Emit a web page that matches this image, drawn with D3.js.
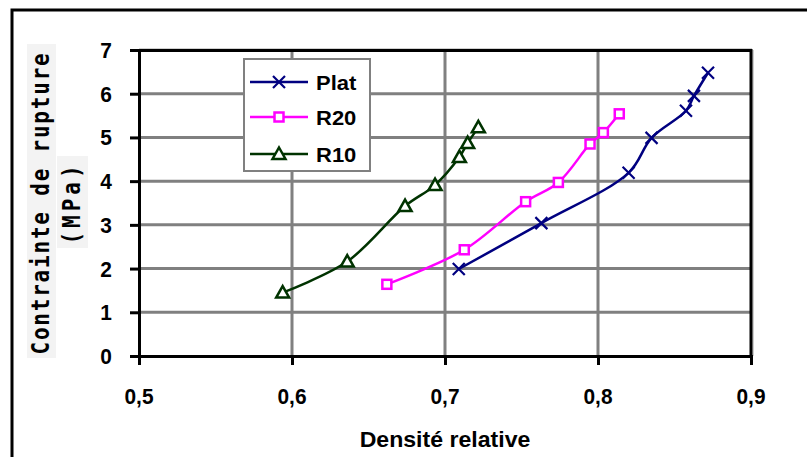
<!DOCTYPE html>
<html>
<head>
<meta charset="utf-8">
<script src="https://cdn.jsdelivr.net/npm/d3@7/dist/d3.min.js"></script>
<style>
  html, body { margin: 0; padding: 0; background: #fff; }
  svg { display: block; }
  text { font-family: "Liberation Sans", Arial, sans-serif; font-weight: bold; fill: #000; }
</style>
</head>
<body>
<svg id="chart" width="807" height="457"></svg>
<script>
// ---------- data ----------
const seriesNames = ["Plat", "R20", "R10"];
const platX = [0.709, 0.763, 0.820, 0.835, 0.8575, 0.8627, 0.8719];
const platY = [1.99, 3.04, 4.19, 4.99, 5.61, 5.95, 6.48];
const r20X  = [0.662, 0.7126, 0.7527, 0.7741, 0.7948, 0.8035, 0.8139];
const r20Y  = [1.64, 2.43, 3.53, 3.97, 4.85, 5.11, 5.54];
const r10X  = [0.5939, 0.6361, 0.6739, 0.6935, 0.7094, 0.7148, 0.7218];
const r10Y  = [1.45, 2.16, 3.43, 3.91, 4.55, 4.87, 5.23];
const xTicks = [0.5, 0.6, 0.7, 0.8, 0.9];
const xTickLabels = ["0,5", "0,6", "0,7", "0,8", "0,9"];
const yTicks = [0, 1, 2, 3, 4, 5, 6, 7];
const xTitle = "Densité relative";
const yTitle1 = "Contrainte de rupture";
const yTitle2 = "(MPa)";

// ---------- layout ----------
const svg = d3.select("#chart");
const L = 139, R = 751, T = 50, B = 356;
const x = d3.scaleLinear().domain([0.5, 0.9]).range([L, R]);
const y = d3.scaleLinear().domain([0, 7]).range([B, T]);

const colors = { "Plat": "#000080", "R20": "#ff00ff", "R10": "#003300" };
const series = [
  { name: "Plat", pts: platX.map((v, i) => [v, platY[i]]), marker: "x" },
  { name: "R20",  pts: r20X.map((v, i) => [v, r20Y[i]]),  marker: "square" },
  { name: "R10",  pts: r10X.map((v, i) => [v, r10Y[i]]),  marker: "triangle" }
];

// outer frame
svg.append("rect").attr("x", 12).attr("y", 10).attr("width", 900).attr("height", 600)
  .attr("fill", "none").attr("stroke", "#000").attr("stroke-width", 3);

// y title backgrounds
svg.append("rect").attr("x", 27).attr("y", 44).attr("width", 29).attr("height", 314).attr("fill", "#f3f3f3");
svg.append("rect").attr("x", 57).attr("y", 156).attr("width", 31).attr("height", 92).attr("fill", "#f3f3f3");

// grid
const g = svg.append("g");
g.selectAll(".hg").data(yTicks.filter(d => d > 0 && d < 7)).enter().append("line")
  .attr("x1", L).attr("x2", R).attr("y1", d => y(d)).attr("y2", d => y(d))
  .attr("stroke", "#808080").attr("stroke-width", 3);
g.selectAll(".vg").data(xTicks.filter(d => d > 0.5 && d < 0.9)).enter().append("line")
  .attr("y1", T).attr("y2", B).attr("x1", d => x(d)).attr("x2", d => x(d))
  .attr("stroke", "#808080").attr("stroke-width", 3);

// plot frame top/right with shadow
svg.append("line").attr("x1", L).attr("x2", R + 1).attr("y1", T - 1).attr("y2", T - 1).attr("stroke", "#a0a0a0").attr("stroke-width", 1);
svg.append("line").attr("x1", R + 2).attr("x2", R + 2).attr("y1", T).attr("y2", B).attr("stroke", "#a0a0a0").attr("stroke-width", 1);
svg.append("line").attr("x1", L).attr("x2", R).attr("y1", T + 0.5).attr("y2", T + 0.5).attr("stroke", "#000").attr("stroke-width", 3);
svg.append("line").attr("x1", R).attr("x2", R).attr("y1", T - 1).attr("y2", B).attr("stroke", "#000").attr("stroke-width", 3);

// axes
const yAxis = d3.axisLeft(y).tickValues(yTicks).tickSize(9).tickFormat("");
const xAxis = d3.axisBottom(x).tickValues(xTicks).tickSize(9).tickFormat("");
const ya = svg.append("g").attr("transform", `translate(${L},0)`).call(yAxis);
const xa = svg.append("g").attr("transform", `translate(0,${B})`).call(xAxis);
[ya, xa].forEach(a => {
  a.select(".domain").attr("stroke", "#000").attr("stroke-width", 3);
  a.selectAll(".tick line").attr("stroke", "#000").attr("stroke-width", 3);
});
// tick labels
svg.selectAll(".ylab").data(yTicks).enter().append("text")
  .attr("transform", d => `translate(112,${y(d) + 8}) scale(0.95,1)`)
  .attr("text-anchor", "end").attr("font-size", 22).text(d => d);
svg.selectAll(".xlab").data(xTicks).enter().append("text")
  .attr("transform", (d, i) => `translate(${x(d)},${404}) scale(0.95,1)`)
  .attr("text-anchor", "middle").attr("font-size", 22).text((d, i) => xTickLabels[i]);

// axis titles
svg.append("text").attr("transform", `translate(${(L + R) / 2},${447}) scale(1.05,1)`)
  .attr("text-anchor", "middle").attr("font-size", 22).text(xTitle);
svg.append("text").attr("transform", `translate(49,203) scale(1.15,1) rotate(-90)`)
  .attr("text-anchor", "middle").attr("font-size", 21).attr("letter-spacing", 1.8)
  .style("font-family", "'DejaVu Sans Mono', monospace").text(yTitle1);
svg.append("text").attr("transform", `translate(80,203) scale(1.15,1) rotate(-90)`)
  .attr("text-anchor", "middle").attr("font-size", 21).attr("letter-spacing", 4)
  .style("font-family", "'DejaVu Sans Mono', monospace").text(yTitle2);

// markers
function drawMarker(sel, type, color) {
  if (type === "x") {
    sel.append("path").attr("d", "M-6,-6L6,6M-6,6L6,-6")
      .attr("stroke", color).attr("stroke-width", 2.2).attr("fill", "none");
  } else if (type === "square") {
    sel.append("rect").attr("x", -4.5).attr("y", -4.5).attr("width", 9).attr("height", 9)
      .attr("stroke", color).attr("stroke-width", 2.5).attr("fill", "#fff");
  } else {
    sel.append("path").attr("d", "M0,-6.5L6.5,5L-6.5,5Z")
      .attr("stroke", color).attr("stroke-width", 2.5).attr("fill", "#fff");
  }
}

const line = d3.line().x(d => x(d[0])).y(d => y(d[1])).curve(d3.curveCatmullRom.alpha(0.5));
series.forEach(s => {
  svg.append("path").datum(s.pts).attr("d", line)
    .attr("fill", "none").attr("stroke", colors[s.name]).attr("stroke-width", 2.5);
  s.pts.forEach(p => {
    const m = svg.append("g").attr("transform", `translate(${x(p[0])},${y(p[1])})`);
    drawMarker(m, s.marker, colors[s.name]);
  });
});

// legend
const lg = svg.append("g");
lg.append("rect").attr("x", 244).attr("y", 59).attr("width", 126).attr("height", 112)
  .attr("fill", "#fff").attr("stroke", "#808080").attr("stroke-width", 2);
const legY = [82, 117, 154];
series.forEach((s, i) => {
  lg.append("line").attr("x1", 250).attr("x2", 308).attr("y1", legY[i]).attr("y2", legY[i])
    .attr("stroke", colors[s.name]).attr("stroke-width", 2.5);
  const m = lg.append("g").attr("transform", `translate(279,${legY[i]})`);
  drawMarker(m, s.marker, colors[s.name]);
  lg.append("text").attr("transform", `translate(316,${legY[i] + 7.5}) scale(1.1,1)`)
    .attr("font-size", 20).text(seriesNames[i]);
});
</script>
</body>
</html>
